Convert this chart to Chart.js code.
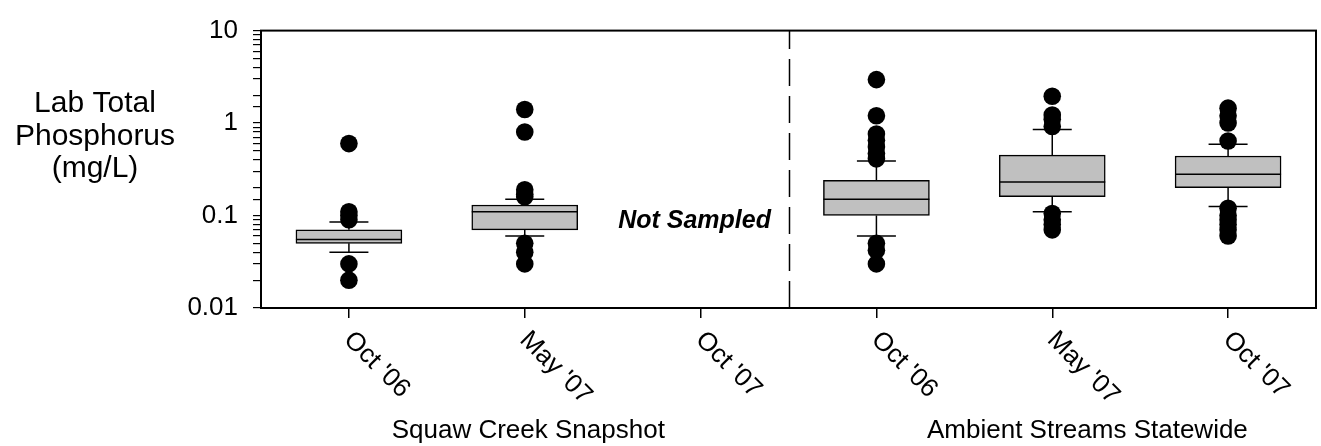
<!DOCTYPE html>
<html>
<head>
<meta charset="utf-8">
<script src="https://cdn.jsdelivr.net/npm/chart.js@4.4.0/dist/chart.umd.min.js"></script>
<style>
  body { margin: 0; background: #fff; }
  #wrap { width: 1321px; height: 446px; }
</style>
</head>
<body>
<div id="wrap"><canvas id="chartResult"></canvas></div>
<script>
var categories = ["Oct '06", "May '07", "Oct '07", "Oct '06", "May '07", "Oct '07"];
var groups = ['Squaw Creek Snapshot', 'Ambient Streams Statewide'];
var yTicks = [0.01, 0.1, 1, 10];
var yTitle = ['Lab Total', 'Phosphorus', '(mg/L)'];
var missingNote = 'Not Sampled';

// box statistics per category (null = not sampled)
var q1 = [0.05, 0.07, null, 0.10, 0.16, 0.20];
var median = [0.055, 0.11, null, 0.15, 0.23, 0.28];
var q3 = [0.07, 0.13, null, 0.24, 0.45, 0.44];
var whiskerLow = [0.04, 0.06, null, 0.06, 0.11, 0.125];
var whiskerHigh = [0.085, 0.15, null, 0.39, 0.85, 0.59];
var outliers = [
  [0.6, 0.11, 0.1, 0.09, 0.03, 0.02],
  [1.4, 0.8, 0.19, 0.17, 0.16, 0.05, 0.04, 0.03],
  [],
  [2.95, 1.2, 0.76, 0.65, 0.55, 0.47, 0.41, 0.05, 0.042, 0.03],
  [1.95, 1.22, 1.1, 0.92, 0.105, 0.09, 0.08, 0.07],
  [1.45, 1.2, 1.0, 0.64, 0.12, 0.1, 0.09, 0.08, 0.07, 0.06]
];

Chart.defaults.font.family = '"Liberation Sans", Arial, sans-serif';
Chart.defaults.color = '#000';

var boxData = [], medData = [], capData = [], whiskerData = [], outData = [];
categories.forEach(function (c, i) {
  if (q1[i] === null) return;
  boxData.push({x: i, y: [q1[i], q3[i]]});
  medData.push({x: i, y: median[i]});
  capData.push({x: i, y: whiskerLow[i]}, {x: i, y: whiskerHigh[i]});
  whiskerData.push({x: i, y: q3[i]}, {x: i, y: whiskerHigh[i]}, {x: i, y: null},
                   {x: i, y: q1[i]}, {x: i, y: whiskerLow[i]}, {x: i, y: null});
});
outliers.forEach(function (list, i) {
  list.forEach(function (v) { outData.push({x: i, y: v}); });
});

// frame, divider, rotated category labels, group names, y title
var decor = {
  id: 'decor',
  afterDraw: function (chart) {
    var ctx = chart.ctx, a = chart.chartArea, xs = chart.scales.x, ys = chart.scales.y;
    ctx.save();
    ctx.strokeStyle = '#000';
    ctx.lineWidth = 2;
    ctx.strokeRect(a.left, a.top, a.right - a.left, a.bottom - a.top);

    var dx = Math.round(xs.getPixelForValue(2.5)) + 0.5;
    ctx.lineWidth = 1.5;
    ctx.setLineDash([27, 10]);
    ctx.beginPath();
    ctx.moveTo(dx, a.bottom);
    ctx.lineTo(dx, a.top);
    ctx.stroke();
    ctx.setLineDash([]);

    ctx.fillStyle = '#000';
    ctx.font = '26px "Liberation Sans", Arial, sans-serif';
    ctx.textAlign = 'left';
    ctx.textBaseline = 'middle';
    categories.forEach(function (c, i) {
      ctx.save();
      ctx.translate(xs.getPixelForValue(i) - 1, a.bottom + 28);
      ctx.rotate(Math.PI / 4);
      ctx.fillText(c, 0, 0);
      ctx.restore();
    });

    ctx.textAlign = 'center';
    ctx.textBaseline = 'alphabetic';
    ctx.fillText(groups[0], xs.getPixelForValue(1.02), 438);
    ctx.fillText(groups[1], xs.getPixelForValue(4.2), 438);

    ctx.font = '30px "Liberation Sans", Arial, sans-serif';
    yTitle.forEach(function (t, k) {
      ctx.fillText(t, 95, 112 + k * 32.5);
    });

    ctx.font = 'italic bold 25px "Liberation Sans", Arial, sans-serif';
    ctx.textBaseline = 'middle';
    ctx.fillText(missingNote, xs.getPixelForValue(2) - 6, ys.getPixelForValue(0.086));
    ctx.restore();
  }
};

var canvasShow = document.getElementById('chartResult');

var mainChart = new Chart(canvasShow, {
  type: 'bar',
  data: {
    datasets: [
      {
        type: 'line',
        data: whiskerData,
        borderColor: '#000',
        borderWidth: 1.5,
        pointRadius: 0,
        spanGaps: false,
        order: 5
      },
      {
        type: 'bar',
        data: boxData,
        backgroundColor: '#c0c0c0',
        borderColor: '#000',
        borderWidth: 1.5,
        borderSkipped: false,
        barThickness: 106,
        order: 4
      },
      {
        type: 'scatter',
        data: medData,
        pointStyle: 'line',
        pointRadius: 53,
        borderColor: '#000',
        borderWidth: 1.5,
        order: 3
      },
      {
        type: 'scatter',
        data: capData,
        pointStyle: 'line',
        pointRadius: 19.5,
        borderColor: '#000',
        borderWidth: 1.5,
        order: 2
      },
      {
        type: 'scatter',
        data: outData,
        pointStyle: 'circle',
        pointRadius: 8.8,
        backgroundColor: '#000',
        borderWidth: 0,
        order: 1
      }
    ]
  },
  options: {
    responsive: true,
    maintainAspectRatio: false,
    animation: false,
    events: [],
    layout: { autoPadding: false, padding: { top: 21, right: 5, left: 0, bottom: 0 } },
    plugins: {
      legend: { display: false },
      tooltip: { enabled: false }
    },
    scales: {
      x: {
        type: 'linear',
        min: -0.5,
        max: 5.5,
        offset: false,
        border: { color: '#000', width: 2 },
        grid: { offset: false, drawOnChartArea: false, color: '#000', lineWidth: 1.5, tickLength: 10 },
        ticks: { display: false },
        afterBuildTicks: function (s) {
          s.ticks = categories.map(function (c, i) { return {value: i}; });
        },
        afterFit: function (s) { s.height = 138; }
      },
      y: {
        type: 'logarithmic',
        min: 0.01,
        max: 10,
        border: { color: '#000', width: 2 },
        grid: { drawOnChartArea: false, color: '#000', lineWidth: 1.2, tickLength: 8 },
        ticks: {
          color: '#000',
          font: { size: 26 },
          padding: 15,
          autoSkip: false,
          callback: function (v) {
            var t = yTicks.find(function (t) { return Math.abs(t - v) < t * 1e-6; });
            return t === undefined ? '' : String(t);
          }
        },
        afterFit: function (s) { s.width = 261; }
      }
    }
  },
  plugins: [decor]
});
</script>
</body>
</html>
